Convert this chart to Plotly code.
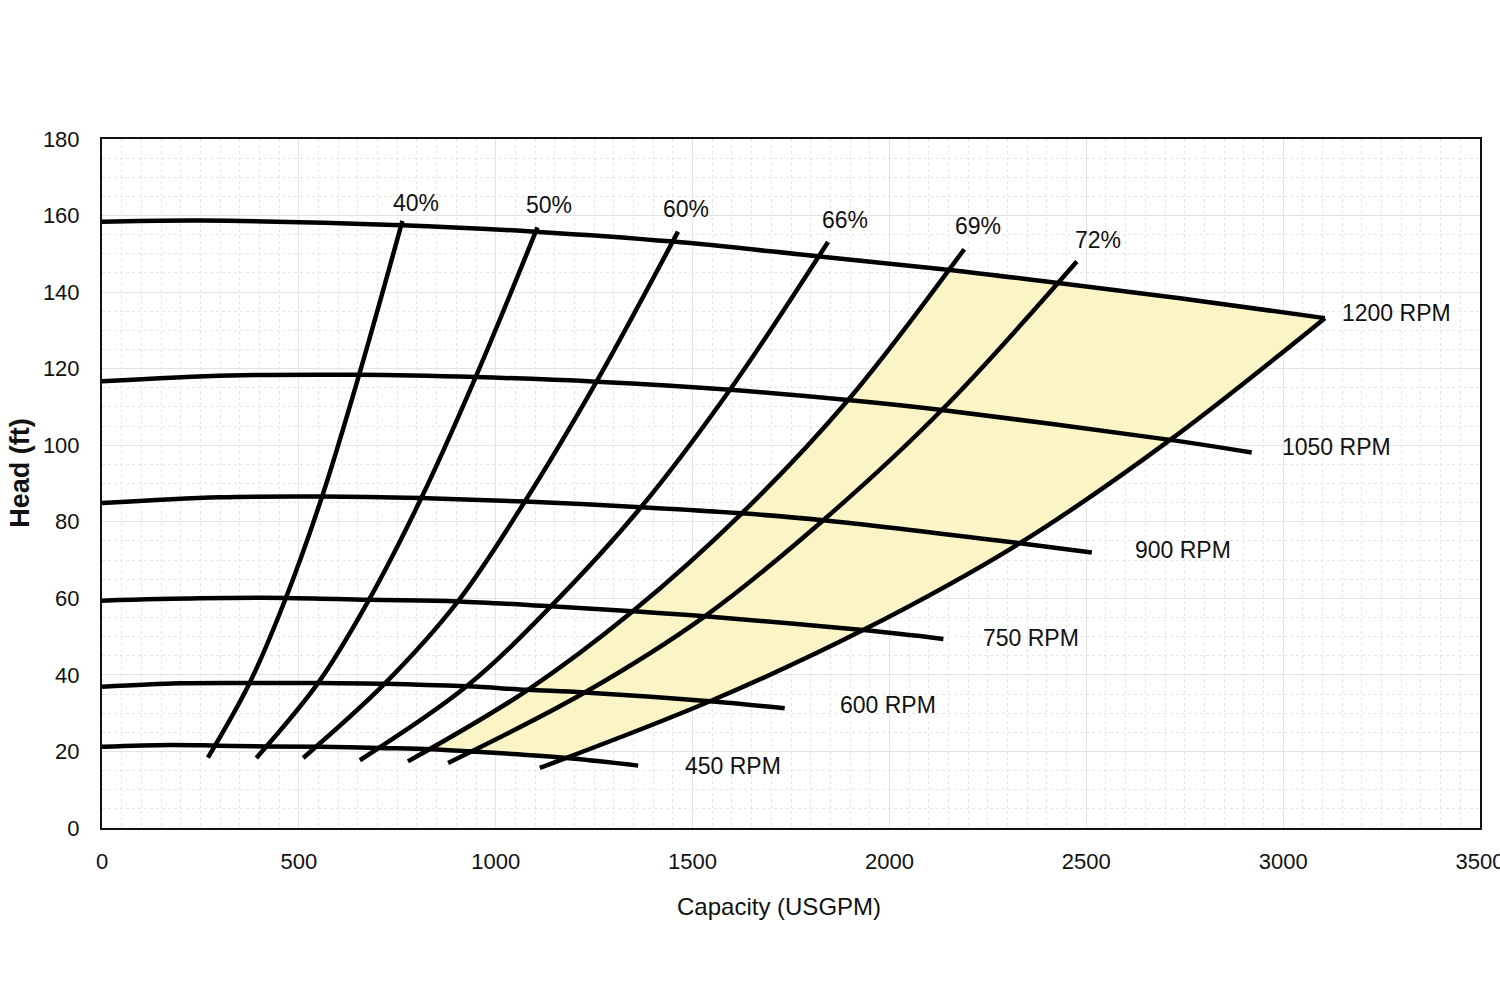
import plotly.graph_objects as go

# ---------------- data (capacity USGPM, head ft) ----------------
rpm_labels = ["1200 RPM", "1050 RPM", "900 RPM", "750 RPM", "600 RPM", "450 RPM"]

q_1200 = [0, 250, 761, 1099, 1451, 1823, 2154, 2433, 2738, 3106]
h_1200 = [158.4, 158.7, 157.5, 155.8, 153.2, 149.3, 145.8, 142.3, 138.4, 133.2]
q_1050 = [0, 324, 653, 949, 1256, 1595, 1895, 2133, 2713, 2920]
h_1050 = [116.7, 118.2, 118.4, 117.8, 116.6, 114.5, 111.8, 109.2, 101.4, 98.1]
q_900 = [0, 299, 559, 811, 1074, 1369, 1625, 1832, 2331, 2514]
h_900 = [84.9, 86.4, 86.6, 86.2, 85.3, 83.8, 82.2, 80.4, 74.4, 72.0]
q_750 = [0, 248, 467, 678, 904, 1140, 1348, 1531, 1933, 2137]
h_750 = [59.4, 60.0, 60.1, 59.6, 59.2, 57.9, 56.6, 55.3, 51.7, 49.4]
q_600 = [0, 197, 375, 549, 718, 926, 1082, 1226, 1544, 1734]
h_600 = [36.9, 37.8, 37.9, 37.9, 37.7, 37.0, 36.1, 35.4, 33.1, 31.3]
q_450 = [0, 172, 295, 418, 553, 706, 837, 939, 1180, 1362]
h_450 = [21.2, 21.7, 21.5, 21.3, 21.2, 20.9, 20.6, 20.0, 18.3, 16.3]

eff_labels = ["40%", "50%", "60%", "66%", "69%", "72%"]
# bottom end, 600/750/900/1050 RPM crossings, top end
q_40 = [269, 375, 467, 559, 653, 763]
h_40 = [18.4, 37.9, 60.1, 86.6, 118.4, 158.6]
q_50 = [392, 549, 678, 811, 949, 1106]
h_50 = [18.3, 37.9, 59.6, 86.2, 117.8, 156.9]
q_60 = [511, 718, 904, 1074, 1256, 1463]
h_60 = [18.3, 37.7, 59.2, 85.3, 116.6, 155.8]
q_66 = [655, 926, 1140, 1369, 1595, 1844]
h_66 = [17.7, 37.0, 57.9, 83.8, 114.5, 153.1]
q_69 = [777, 1082, 1348, 1625, 1895, 2190]
h_69 = [17.4, 36.1, 56.6, 82.2, 111.8, 151.2]
q_72 = [879, 1226, 1531, 1832, 2133, 2476]
h_72 = [17.0, 35.4, 55.3, 80.4, 109.2, 148.0]
# right-hand end-of-curve boundary (bottom end, 600..1050 crossings, 1200 end)
q_edge = [1112, 1544, 1933, 2331, 2713, 3106]
h_edge = [15.7, 33.1, 51.7, 74.4, 101.4, 133.2]

x_ticks = [0, 500, 1000, 1500, 2000, 2500, 3000, 3500]
y_ticks = [0, 20, 40, 60, 80, 100, 120, 140, 160, 180]

# ---------------- figure ----------------
FONT = "Liberation Sans, Arial, sans-serif"
LINE = dict(color="#000000", width=4.5, shape="spline", smoothing=1)

fig = go.Figure()

# shaded region: 69% line -> 1200 RPM curve -> end boundary -> 450 RPM curve
fill_q = q_450[6:7] + q_69[1:5] + q_1200[6:] + q_edge[4:0:-1] + q_450[8:6:-1] + q_450[6:7]
fill_h = h_450[6:7] + h_69[1:5] + h_1200[6:] + h_edge[4:0:-1] + h_450[8:6:-1] + h_450[6:7]
fig.add_trace(go.Scatter(x=fill_q, y=fill_h, mode="lines", fill="toself",
                         fillcolor="#FAF4C6", line=dict(width=0),
                         hoverinfo="skip", showlegend=False))

rpm_q = [q_1200, q_1050, q_900, q_750, q_600, q_450]
rpm_h = [h_1200, h_1050, h_900, h_750, h_600, h_450]
eff_q = [q_40, q_50, q_60, q_66, q_69, q_72, q_edge]
eff_h = [h_40, h_50, h_60, h_66, h_69, h_72, h_edge]

for q, h in zip(eff_q, eff_h):
    fig.add_trace(go.Scatter(x=q, y=h, mode="lines", line=LINE,
                             hoverinfo="skip", showlegend=False))
for q, h, name in zip(rpm_q, rpm_h, rpm_labels):
    fig.add_trace(go.Scatter(x=q, y=h, mode="lines", line=LINE, name=name,
                             showlegend=False))

# RPM labels at curve ends
rpm_shift = [(15, 5), (28, 6), (41, 2), (38, 1), (53, 3), (45, 0)]
for q, h, name, (dx, dy) in zip(rpm_q, rpm_h, rpm_labels, rpm_shift):
    fig.add_annotation(x=q[-1], y=h[-1], text=name, showarrow=False,
                       xanchor="left", yanchor="middle", xshift=dx, yshift=dy,
                       font=dict(family=FONT, size=23, color="#111111"))

# efficiency labels at line tops
eff_shift = [(14, 18), (12, 22), (8, 23), (17, 22), (14, 23), (21, 21)]
for q, h, name, (dx, dy) in zip(eff_q, eff_h, eff_labels, eff_shift):
    fig.add_annotation(x=q[-1], y=h[-1], text=name, showarrow=False,
                       xanchor="center", yanchor="middle", xshift=dx, yshift=dy,
                       font=dict(family=FONT, size=23, color="#111111"))

# axis titles
fig.add_annotation(xref="paper", yref="paper", x=0.4913, y=-0.114,
                   text="Capacity (USGPM)", showarrow=False,
                   xanchor="center", yanchor="middle",
                   font=dict(family=FONT, size=24, color="#111111"))
fig.add_annotation(xref="paper", yref="paper", x=-0.0595, y=0.5157,
                   text="<b>Head (ft)</b>", showarrow=False, textangle=-90,
                   xanchor="center", yanchor="middle",
                   font=dict(family=FONT, size=27, color="#111111"))

axis_common = dict(showline=True, mirror=True, linecolor="#111111", linewidth=2,
                   showgrid=True, gridcolor="#e3e3e3", gridwidth=1, zeroline=False,
                   ticks="outside", tickcolor="rgba(0,0,0,0)",
                   tickfont=dict(family=FONT, size=22, color="#111111"),
                   minor=dict(showgrid=True, gridcolor="#e6e6e6", griddash="dot",
                              gridwidth=1))

fig.update_xaxes(range=[0, 3500], tickvals=x_ticks, ticklen=13,
                 ticklabeloverflow="allow", **axis_common)
fig.update_xaxes(minor=dict(dtick=50))
fig.update_yaxes(range=[0, 180], tickvals=y_ticks, ticklen=16, **axis_common)
fig.update_yaxes(minor=dict(dtick=5))

fig.update_layout(width=1500, height=1000,
                  margin=dict(l=102, r=20, t=139, b=172, autoexpand=False),
                  paper_bgcolor="white", plot_bgcolor="white",
                  font=dict(family=FONT, color="#111111"))

fig.write_html("out.html")
